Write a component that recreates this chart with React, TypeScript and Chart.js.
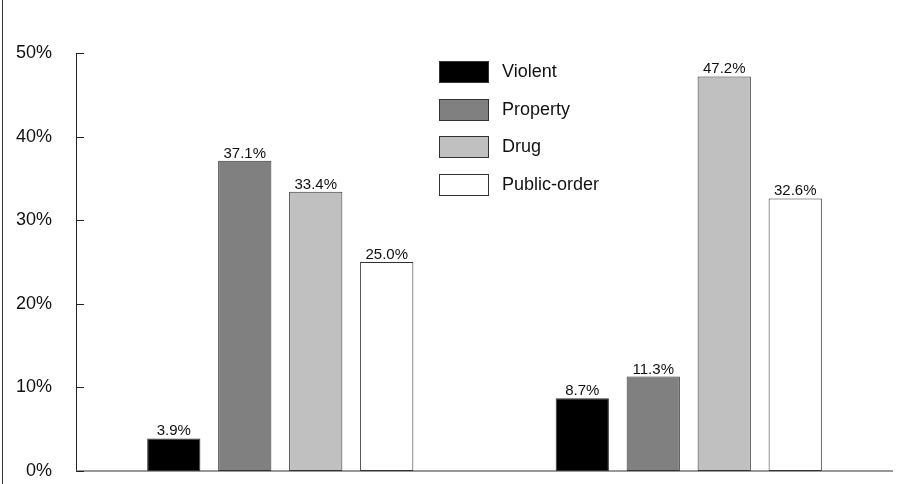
import React, { useEffect, useRef } from "react";
import { Chart, registerables, Plugin } from "chart.js";

Chart.register(...registerables);

// Two groups of offenders, four offense types each
const groups = ["Group 1", "Group 2"];
const offenseTypes = ["Violent", "Property", "Drug", "Public-order"];
const violent = [3.9, 8.7];
const property = [37.1, 11.3];
const drug = [33.4, 47.2];
const publicOrder = [25.0, 32.6];
const fills = ["#000000", "#808080", "#c0c0c0", "#ffffff"];
const yTicks = [0, 10, 20, 30, 40, 50];

const FONT = "Arial, 'Liberation Sans', Helvetica, sans-serif";

// Left frame line of the figure and the category baseline
const framePlugin: Plugin = {
  id: "frame",
  afterDraw(chart) {
    const { ctx, height } = chart;
    ctx.save();
    ctx.strokeStyle = "#333";
    ctx.lineWidth = 1;
    ctx.beginPath();
    ctx.moveTo(2.5, 0);
    ctx.lineTo(2.5, height);
    ctx.stroke();
    ctx.restore();
  },
  beforeDatasetsDraw(chart) {
    const { ctx, chartArea } = chart;
    ctx.save();
    ctx.strokeStyle = "#777";
    ctx.lineWidth = 1.5;
    ctx.beginPath();
    ctx.moveTo(chartArea.left, chartArea.bottom);
    ctx.lineTo(chartArea.right, chartArea.bottom);
    ctx.stroke();
    ctx.restore();
  },
};

// Short tick marks pointing into the plot from the y axis
const innerTicksPlugin: Plugin = {
  id: "innerTicks",
  afterDraw(chart) {
    const { ctx, chartArea } = chart;
    const y = chart.scales.y;
    ctx.save();
    ctx.strokeStyle = "#222";
    ctx.lineWidth = 1;
    yTicks.forEach((v) => {
      const py = Math.round(y.getPixelForValue(v)) + 0.5;
      ctx.beginPath();
      ctx.moveTo(chartArea.left, py);
      ctx.lineTo(chartArea.left + 8, py);
      ctx.stroke();
    });
    ctx.restore();
  },
};

// Percentage printed above every bar
const valueLabelPlugin: Plugin = {
  id: "valueLabels",
  afterDatasetsDraw(chart) {
    const { ctx } = chart;
    ctx.save();
    ctx.font = `15px ${FONT}`;
    ctx.fillStyle = "#111";
    ctx.textAlign = "center";
    ctx.textBaseline = "alphabetic";
    chart.data.datasets.forEach((ds, di) => {
      const meta = chart.getDatasetMeta(di);
      meta.data.forEach((el: any, i) => {
        const v = ds.data[i] as number;
        ctx.fillText(v.toFixed(1) + "%", el.x, el.y - 3);
      });
    });
    ctx.restore();
  },
};

// Vertical legend inside the plot area
const boxLegendPlugin: Plugin = {
  id: "boxLegend",
  afterDraw(chart) {
    const { ctx, chartArea } = chart;
    const x0 = chartArea.left + 363;
    const y0 = chartArea.top + 8;
    const step = 37.7;
    ctx.save();
    ctx.font = `18px ${FONT}`;
    ctx.textBaseline = "middle";
    ctx.textAlign = "left";
    chart.data.datasets.forEach((ds, i) => {
      const top = Math.round(y0 + i * step);
      ctx.fillStyle = ds.backgroundColor as string;
      ctx.fillRect(x0, top, 50, 22);
      ctx.strokeStyle = "#333";
      ctx.lineWidth = 1;
      ctx.strokeRect(x0 + 0.5, top + 0.5, 49, 21);
      ctx.fillStyle = "#111";
      ctx.fillText(ds.label as string, x0 + 63, top + 11);
    });
    ctx.restore();
  },
};

export default function App() {
  const ref = useRef<HTMLCanvasElement>(null);

  useEffect(() => {
    if (!ref.current) return;
    const series = [violent, property, drug, publicOrder];
    const chart = new Chart(ref.current, {
      type: "bar",
      data: {
        labels: groups,
        datasets: offenseTypes.map((name, i) => ({
          label: name,
          data: series[i],
          backgroundColor: fills[i],
          borderColor: "#333",
          borderWidth: 1,
          borderSkipped: false,
          categoryPercentage: 0.695,
          barPercentage: 0.75,
        })),
      },
      options: {
        responsive: false,
        maintainAspectRatio: false,
        animation: false,
        devicePixelRatio: 1,
        layout: { padding: { top: 53, bottom: 13, right: 9, left: 0 } },
        plugins: {
          legend: { display: false },
          tooltip: { enabled: false },
          title: { display: false },
        },
        scales: {
          x: {
            display: false,
          },
          y: {
            min: 0,
            max: 50,
            afterBuildTicks: (s: any) => {
              s.ticks = yTicks.map((v) => ({ value: v }));
            },
            grid: { display: false, drawTicks: false },
            border: { display: true, color: "#222", width: 1 },
            ticks: {
              padding: 24,
              color: "#111",
              font: { family: FONT, size: 18 },
              callback: (v: any) => `${v}%`,
            },
            afterFit: (s: any) => {
              s.width = 76;
              s.paddingTop = 0;
              s.paddingBottom = 0;
            },
          },
        },
      },
      plugins: [framePlugin, innerTicksPlugin, valueLabelPlugin, boxLegendPlugin],
    });
    return () => chart.destroy();
  }, []);

  return (
    <div
      style={{
        position: "absolute",
        left: 0,
        top: 0,
        width: 902,
        height: 484,
        background: "#fff",
      }}
    >
      <canvas
        ref={ref}
        width={902}
        height={484}
        style={{ display: "block", width: 902, height: 484 }}
      />
    </div>
  );
}
